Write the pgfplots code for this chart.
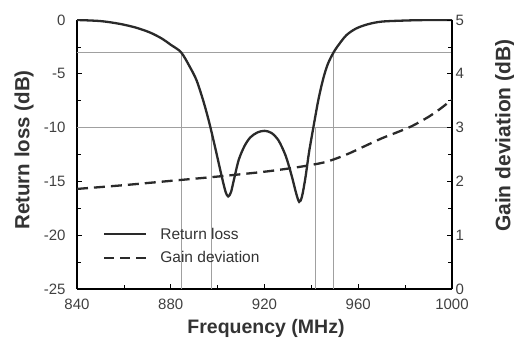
\documentclass[border=0pt]{standalone}
\usepackage{pgfplots}
\pgfplotsset{compat=1.18}
\usepackage{fontspec}
\setmainfont{Liberation Sans}
\definecolor{curve}{HTML}{2A2A2A}
\definecolor{gridc}{HTML}{A0A0A0}
\begin{document}
\begin{tikzpicture}
\useasboundingbox (-77pt,-58pt) rectangle (437pt,289pt);
\pgfplotsset{
  common/.style={
    width=375pt, height=269pt, scale only axis,
    xmin=840, xmax=1000,
    tick align=inside,
    major tick length=5pt, minor tick length=4pt,
    tick style={black, line width=0.7pt},
    axis line style={black, line width=1.2pt},
    /pgf/number format/assume math mode=true,
    tick label style={font=\fontsize{15}{15}\selectfont, text=black!75},
    label style={font=\bfseries\fontsize{19.5}{19.5}\selectfont, text=black!80},
  }
}
\begin{axis}[common,
  axis y line*=left, axis x line*=bottom,
  ymin=-25, ymax=0,
  xtick={840,880,920,960,1000},
  minor xtick={860,900,940,980},
  ytick={-25,-20,-15,-10,-5,0},
  minor ytick={-22.5,-17.5,-12.5,-7.5,-2.5},
  xticklabel style={/pgf/number format/1000 sep={}, yshift=-6pt},
  yticklabel style={xshift=-8pt},
  xlabel={Frequency (MHz)},
  ylabel={Return loss (dB)},
  xlabel style={at={(axis description cs:0.504,-0.145)}, anchor=center},
  ylabel style={at={(axis description cs:-0.141,0.517)}, anchor=center,
    font=\bfseries\fontsize{20.5}{20.5}\selectfont},
  legend style={draw=none, fill=none, inner sep=0pt, at={(0.069,0.228)}, anchor=north west,
    font=\fontsize{15.5}{15.5}\selectfont, row sep=11pt, text=black!80,
    nodes={inner sep=0pt, inner xsep=13pt}},
  legend image code/.code={\draw[#1] (0pt,0pt) -- (42pt,0pt);},
  legend cell align=left,
]
% reference lines
\addplot[gridc, line width=0.5pt, forget plot] coordinates {(840,-3) (1000,-3)};
\addplot[gridc, line width=0.5pt, forget plot] coordinates {(840,-10) (1000,-10)};
\addplot[gridc, line width=0.5pt, forget plot] coordinates {(884.4,-25) (884.4,-3)};
\addplot[gridc, line width=0.5pt, forget plot] coordinates {(897.4,-25) (897.4,-10)};
\addplot[gridc, line width=0.5pt, forget plot] coordinates {(941.5,-25) (941.5,-10)};
\addplot[gridc, line width=0.5pt, forget plot] coordinates {(949.5,-25) (949.5,-3)};
% return loss
\addplot[curve, line width=2.3pt, smooth, tension=0.5] coordinates {
(840,0) (850,-0.1) (858,-0.35) (865,-0.7) (871,-1.15) (876,-1.7) (880,-2.3)
(884.4,-3.0) (888,-4.3) (891,-5.6) (894,-7.6) (896.5,-9.6) (899,-11.9)
(901.5,-14.3) (903.3,-15.9) (904.5,-16.4) (905.7,-16.0) (907,-14.8)
(909,-13.0) (911.5,-11.7) (914,-10.9) (917,-10.45) (920,-10.3) (923,-10.5)
(926,-11.2) (929,-12.6) (931.5,-14.4) (933.5,-16.1) (934.8,-16.9) (936,-16.4)
(937.5,-14.6) (939,-12.3) (941,-9.8) (943,-7.4) (945,-5.5) (947,-4.1)
(949.5,-3.0) (952,-2.2) (955,-1.4) (959,-0.8) (964,-0.4) (970,-0.15)
(980,-0.05) (990,0) (1000,0)};
\addlegendentry{Return loss}
\addlegendimage{curve, line width=2.3pt, dash pattern=on 10pt off 6pt}
\addlegendentry{Gain deviation}
\end{axis}
\begin{axis}[common,
  axis y line*=right, axis x line=none,
  ymin=0, ymax=5,
  ytick={0,1,2,3,4,5},
  minor ytick={0.5,1.5,2.5,3.5,4.5},
  ylabel={Gain deviation (dB)},
  ylabel style={at={(axis description cs:1.141,0.57)}, anchor=center,
    font=\bfseries\fontsize{21}{21}\selectfont},
]
\addplot[curve, line width=2.3pt, smooth, dash pattern=on 11pt off 6pt] coordinates {
(840,1.86) (860,1.93) (880,2.01) (900,2.09) (920,2.18) (935,2.27) (946,2.36)
(955,2.5) (963,2.66) (970,2.8) (977,2.92) (983,3.03) (990,3.2) (995,3.35) (1000,3.52)};
\end{axis}
\end{tikzpicture}
\end{document}
